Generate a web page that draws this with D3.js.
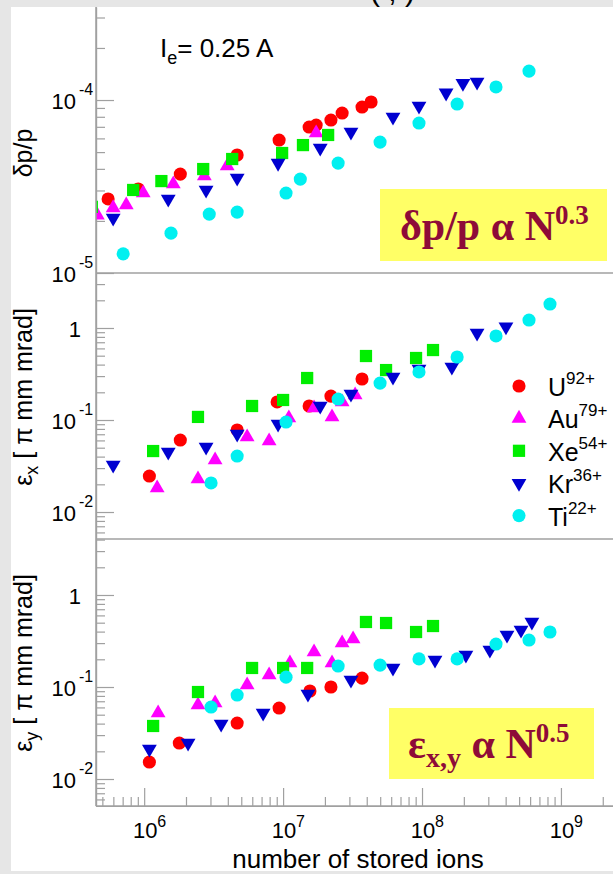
<!DOCTYPE html>
<html><head><meta charset="utf-8">
<script src="https://cdn.jsdelivr.net/npm/d3@7"></script>
<style>html,body{margin:0;padding:0;background:#e8e8e8;}svg{display:block;}</style>
</head><body>
<script>
// ---------- data ----------
const species = ["U","Au","Xe","Kr","Ti"];
const charges = ["92+","79+","54+","36+","22+"];
const colors  = ["#ff0000","#ff00ff","#00ee00","#0000d0","#00f0f0"];
const shapes  = ["circle","up","square","down","circle"];
const xTickExps = [6,7,8,9];

// panel 1: δp/p vs N
const dppU  = [[5.5e5,2.68e-5],[9.06e5,3.06e-5],[1.82e6,3.73e-5],[4.67e6,4.81e-5],[9.36e6,5.87e-5],[1.54e7,6.98e-5],[1.73e7,7.17e-5],[2.21e7,7.66e-5],[2.66e7,8.41e-5],[3.70e7,9.11e-5],[4.30e7,9.74e-5]];
const dppAu = [[4.6e5,2.16e-5],[5.98e5,2.38e-5],[7.43e5,2.47e-5],[9.84e5,2.90e-5],[1.62e6,3.27e-5],[2.71e6,3.64e-5],[3.96e6,4.15e-5],[1.73e7,6.44e-5]];
const dppXe = [[4.2e5,2.41e-5],[8.33e5,3.02e-5],[1.33e6,3.40e-5],[2.66e6,3.99e-5],[4.30e6,4.56e-5],[9.84e6,4.94e-5],[1.39e7,5.49e-5],[2.11e7,6.28e-5]];
const dppKr = [[5.98e5,2.08e-5],[1.49e6,2.68e-5],[2.79e6,3.02e-5],[4.67e6,3.54e-5],[9.20e6,4.32e-5],[1.85e7,5.28e-5],[3.08e7,6.53e-5],[6.18e7,7.98e-5],[9.51e7,9.23e-5],[1.49e8,1.10e-4],[1.97e8,1.25e-4],[2.49e8,1.27e-4]];
const dppTi = [[7.06e5,1.29e-5],[1.56e6,1.70e-5],[2.94e6,2.19e-5],[4.67e6,2.25e-5],[1.05e7,2.90e-5],[1.33e7,3.49e-5],[2.49e7,4.32e-5],[4.99e7,5.71e-5],[9.51e7,7.36e-5],[1.79e8,9.48e-5],[3.41e8,1.19e-4],[5.89e8,1.47e-4]];

// panel 2: εx vs N
const exU  = [[1.09e6,0.0246],[1.82e6,0.0606],[4.67e6,0.0779],[9.06e6,0.157],[1.54e7,0.142],[2.21e7,0.182],[3.70e7,0.279]];
const exAu = [[1.24e6,0.0182],[2.44e6,0.0228],[3.24e6,0.0367],[5.51e6,0.0653],[7.93e6,0.0591],[1.10e7,0.105],[1.67e7,0.135],[2.25e7,0.108],[2.66e7,0.157],[3.30e7,0.187]];
const exXe = [[1.16e6,0.046],[2.44e6,0.108],[5.98e6,0.142],[1.0e7,0.165],[1.49e7,0.286],[3.95e7,0.496],[5.51e7,0.349],[9.06e7,0.472],[1.20e8,0.576]];
const exKr = [[5.98e5,0.0324],[1.49e6,0.0449],[2.79e6,0.0509],[4.67e6,0.0705],[9.20e6,0.0905],[1.85e7,0.142],[3.08e7,0.192],[6.18e7,0.293],[9.51e7,0.358],[1.64e8,0.377],[2.49e8,0.883],[4.02e8,1.03]];
const exTi = [[3.03e6,0.0207],[4.67e6,0.0406],[1.05e7,0.0951],[2.49e7,0.169],[4.99e7,0.252],[9.51e7,0.333],[1.79e8,0.484],[3.41e8,0.819],[5.89e8,1.22],[8.34e8,1.82]];

// panel 3: εy vs N
const eyU  = [[1.09e6,0.0153],[1.79e6,0.0246],[4.67e6,0.0406],[9.36e6,0.0591],[1.56e7,0.0905],[2.21e7,0.100],[3.70e7,0.125]];
const eyAu = [[1.26e6,0.0522],[2.44e6,0.0637],[3.24e6,0.0670],[5.51e6,0.105],[7.93e6,0.135],[1.12e7,0.182],[1.67e7,0.240],[2.25e7,0.182],[2.66e7,0.301],[3.19e7,0.333]];
const eyXe = [[1.16e6,0.0377],[2.44e6,0.0882],[5.98e6,0.161],[1.0e7,0.161],[1.49e7,0.161],[3.95e7,0.509],[5.51e7,0.496],[9.06e7,0.396],[1.20e8,0.460]];
const eyKr = [[1.09e6,0.0212],[2.07e6,0.0246],[3.58e6,0.0396],[7.18e6,0.0522],[1.51e7,0.0839],[3.08e7,0.119],[6.18e7,0.161],[1.24e8,0.197],[2.07e8,0.223],[3.08e8,0.252],[4.09e8,0.367],[5.16e8,0.417],[6.18e8,0.509]];
const eyTi = [[3.03e6,0.0606],[4.67e6,0.0818],[1.05e7,0.128],[2.49e7,0.169],[4.99e7,0.173],[9.51e7,0.202],[1.79e8,0.202],[3.41e8,0.293],[5.89e8,0.324],[8.34e8,0.396]];

// ---------- layout ----------
const W = 613, H = 874;
const SANS = "'Liberation Sans', Arial, sans-serif";
const SERIF = "'Liberation Serif', 'Times New Roman', serif";
const AX = "#a0a0a0";
const svg = d3.select("body").append("svg").attr("width", W).attr("height", H);

svg.append("rect").attr("width", W).attr("height", H).attr("fill", "#e6e6e6");
svg.append("rect").attr("x", 11).attr("y", 7).attr("width", W - 11).attr("height", 864).attr("fill", "#fff");

// clipped title fragment at very top
svg.append("text").attr("x", 370).attr("y", 1).attr("font-family", SANS).attr("font-size", 30)
  .attr("fill", "#000").text("(      ,      )");

const x = d3.scaleLog().domain([4.5e5, 2.37e9]).range([96, 613]);
const panels = [
  {y: d3.scaleLog().domain([1e-5, 3.45e-4]).range([273, 7]), series: [dppU, dppAu, dppXe, dppKr, dppTi], majors: [1e-5, 1e-4], labels: [[-5], [-4]]},
  {y: d3.scaleLog().domain([5.09e-3, 3.96]).range([539, 273]), series: [exU, exAu, exXe, exKr, exTi], majors: [1e-2, 1e-1, 1], labels: [[-2], [-1], [0]]},
  {y: d3.scaleLog().domain([5.09e-3, 4.06]).range([806, 539]), series: [eyU, eyAu, eyXe, eyKr, eyTi], majors: [1e-2, 1e-1, 1], labels: [[-2], [-1], [0]]}
];

function logTicks(domain) {
  const out = [];
  const lo = Math.floor(Math.log10(domain[0])), hi = Math.ceil(Math.log10(domain[1]));
  for (let e = lo; e <= hi; e++) for (let m = 1; m <= 9; m++) {
    const v = m * Math.pow(10, e);
    if (v >= domain[0] * 0.999 && v <= domain[1] * 1.001) out.push(v);
  }
  return out;
}

function styleAxis(g) {
  g.selectAll("path,line").attr("stroke", AX).attr("stroke-width", 1.2);
  g.selectAll("text").remove();
}

function symPath(shape) {
  if (shape === "circle") return d3.symbol(d3.symbolCircle, 135)();
  if (shape === "square") return d3.symbol(d3.symbolSquare, 150)();
  return d3.symbol(d3.symbolTriangle, 95)();
}

svg.append("defs").append("clipPath").attr("id", "plotclip")
  .append("rect").attr("x", 96).attr("y", 7).attr("width", W - 96).attr("height", 799);

panels.forEach((p, pi) => {
  const dom = p.y.domain();
  const minor = logTicks(dom).filter(v => p.majors.every(m => Math.abs(v / m - 1) > 1e-6));
  svg.append("g").attr("transform", "translate(96,0)")
    .call(d3.axisRight(p.y).tickValues(minor).tickSize(9).tickSizeOuter(0).tickFormat(""))
    .call(styleAxis);
  svg.append("g").attr("transform", "translate(96,0)")
    .call(d3.axisRight(p.y).tickValues(p.majors).tickSize(18).tickSizeOuter(0).tickFormat(""))
    .call(styleAxis);
  // panel bottom line
  svg.append("line").attr("x1", 96).attr("x2", W).attr("y1", p.y.range()[0]).attr("y2", p.y.range()[0])
    .attr("stroke", AX).attr("stroke-width", 1.5);
  // tick labels
  p.majors.forEach((v, i) => {
    const yy = p.y(v);
    const e = p.labels[i][0];
    if (e === 0) {
      svg.append("text").attr("x", 81).attr("y", yy + 9).attr("text-anchor", "end")
        .attr("font-family", SANS).attr("font-size", 22).text("1");
    } else {
      svg.append("text").attr("x", 76).attr("y", yy + 9).attr("text-anchor", "end")
        .attr("font-family", SANS).attr("font-size", 22).text("10");
      svg.append("text").attr("x", 79).attr("y", yy - 5)
        .attr("font-family", SANS).attr("font-size", 16).text("-" + Math.abs(e));
    }
  });
  // markers
  const g = svg.append("g").attr("clip-path", "url(#plotclip)");
  p.series.forEach((s, si) => {
    g.selectAll(null).data(s).enter().append("path")
      .attr("d", symPath(shapes[si]))
      .attr("transform", d => `translate(${x(d[0])},${p.y(d[1])})` + (shapes[si] === "down" ? " rotate(180)" : ""))
      .attr("fill", colors[si]);
  });
});

// left axis line
svg.append("line").attr("x1", 96).attr("x2", 96).attr("y1", 7).attr("y2", 806).attr("stroke", AX).attr("stroke-width", 1.5);

// x axis
const xMinor = logTicks(x.domain()).filter(v => !xTickExps.some(e => Math.abs(v / Math.pow(10, e) - 1) < 1e-6));
svg.append("g").attr("transform", "translate(0,806)")
  .call(d3.axisTop(x).tickValues(xMinor).tickSize(9).tickSizeOuter(0).tickFormat(""))
  .call(styleAxis);
svg.append("g").attr("transform", "translate(0,806)")
  .call(d3.axisTop(x).tickValues(xTickExps.map(e => Math.pow(10, e))).tickSize(18).tickSizeOuter(0).tickFormat(""))
  .call(styleAxis);
xTickExps.forEach(e => {
  const xx = x(Math.pow(10, e));
  svg.append("text").attr("x", xx + 1).attr("y", 838).attr("text-anchor", "middle")
    .attr("font-family", SANS).attr("font-size", 22).text("10");
  svg.append("text").attr("x", xx + 13).attr("y", 827)
    .attr("font-family", SANS).attr("font-size", 16).text(String(e));
});
svg.append("text").attr("x", 358).attr("y", 868).attr("text-anchor", "middle")
  .attr("font-family", SANS).attr("font-size", 26).text("number of stored ions");

// y-axis titles
svg.append("text").attr("transform", "translate(32,153) rotate(-90)").attr("text-anchor", "middle")
  .attr("font-family", SANS).attr("font-size", 25).text("δp/p");
[["x", 397], ["y", 663]].forEach(([sub, cy]) => {
  const t = svg.append("text").attr("transform", `translate(32,${cy}) rotate(-90)`).attr("text-anchor", "middle")
    .attr("font-family", SANS).attr("font-size", 25);
  t.append("tspan").text("ε");
  t.append("tspan").attr("dy", 6).attr("font-size", 18).text(sub);
  t.append("tspan").attr("dy", -6).text(" [ π mm mrad]");
});

// I_e label
const ie = svg.append("text").attr("x", 160).attr("y", 57).attr("font-family", SANS).attr("font-size", 26);
ie.append("tspan").text("I");
ie.append("tspan").attr("dy", 7).attr("font-size", 18).text("e");
ie.append("tspan").attr("dy", -7).text("= 0.25 A");

// legend
species.forEach((sp, i) => {
  const ly = 386 + i * 32.4;
  svg.append("path").attr("d", symPath(shapes[i]))
    .attr("transform", `translate(519,${ly})` + (shapes[i] === "down" ? " rotate(180)" : ""))
    .attr("fill", colors[i]);
  const t = svg.append("text").attr("x", 548).attr("y", ly + 10).attr("font-family", SANS).attr("font-size", 25);
  t.append("tspan").text(sp);
  t.append("tspan").attr("dy", -12).attr("font-size", 17).text(charges[i]);
});

// yellow annotation boxes
const MAROON = "#8e0b38";
svg.append("rect").attr("x", 380).attr("y", 189).attr("width", 227).attr("height", 72).attr("fill", "#ffff66");
const a1 = svg.append("text").attr("x", 400).attr("y", 240).attr("font-family", SERIF).attr("font-weight", "bold")
  .attr("font-size", 42).attr("fill", MAROON);
a1.append("tspan").text("δp/p α N");
a1.append("tspan").attr("dy", -16).attr("font-size", 27).text("0.3");

svg.append("rect").attr("x", 389).attr("y", 708).attr("width", 205).attr("height", 71).attr("fill", "#ffff66");
const a2 = svg.append("text").attr("x", 408).attr("y", 758).attr("font-family", SERIF).attr("font-weight", "bold")
  .attr("font-size", 42).attr("fill", MAROON);
a2.append("tspan").text("ε");
a2.append("tspan").attr("dy", 9).attr("font-size", 28).text("x,y");
a2.append("tspan").attr("dy", -9).text(" α N");
a2.append("tspan").attr("dy", -16).attr("font-size", 27).text("0.5");
</script>
</body></html>
